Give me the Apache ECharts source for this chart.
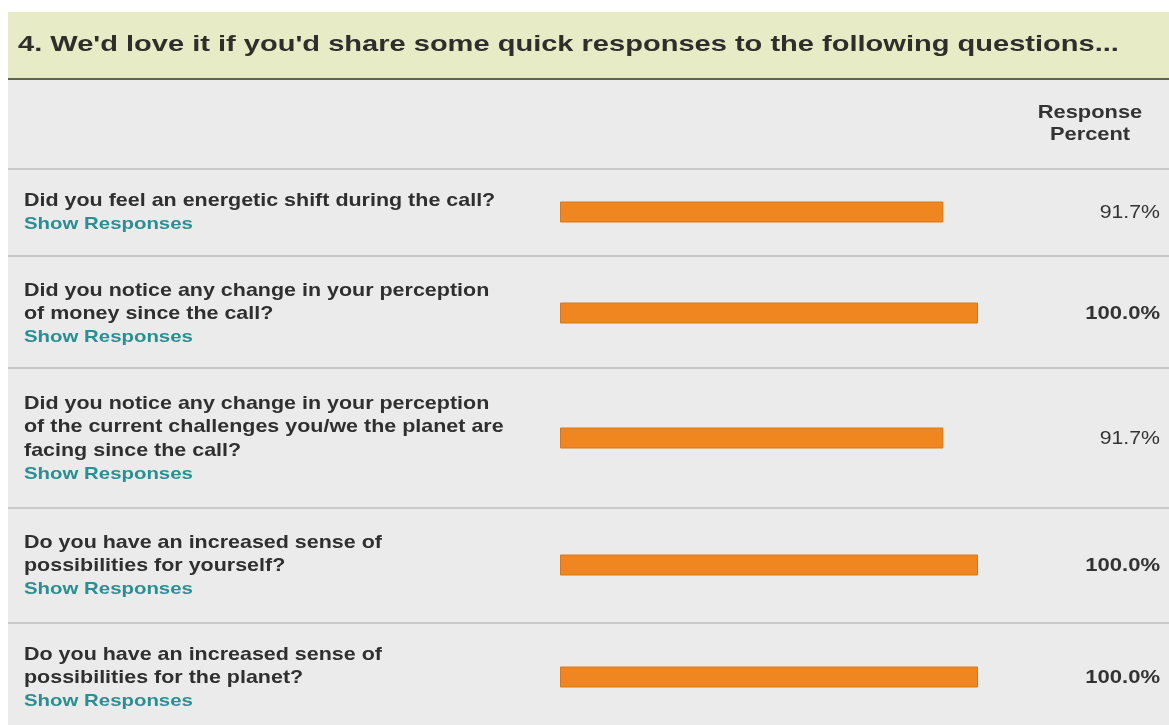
<!DOCTYPE html>
<html>
<head>
<meta charset="utf-8">
<script src="https://cdn.jsdelivr.net/npm/echarts@6/dist/echarts.min.js"></script>
<style>
html, body { margin: 0; padding: 0; background: #fff; }
#chart_panel { width: 1169px; height: 725px; }
</style>
</head>
<body>
<div id="chart_panel"></div>
<script>
// data
var titleText = "4. We'd love it if you'd share some quick responses to the following questions...";
var columnHeader = ['Response', 'Percent'];
var questions = [
	['Did you feel an energetic shift during the call?'],
	['Did you notice any change in your perception', 'of money since the call?'],
	['Did you notice any change in your perception', 'of the current challenges you/we the planet are', 'facing since the call?'],
	['Do you have an increased sense of', 'possibilities for yourself?'],
	['Do you have an increased sense of', 'possibilities for the planet?']
];
var linkText = 'Show Responses';
var percentValues = [91.7, 100.0, 91.7, 100.0, 100.0];

// layout, pixels
var rowLines = [169, 256, 368, 508, 623];
var barCenters = [212, 313, 438, 565, 677];
var barLeft = 560, barFull = 418, barThick = 21;
var lineH = 23.5;
var font = '"Liberation Sans", Arial, Helvetica, sans-serif';

var myChart = echarts.init(document.getElementById('chart_panel'));

// the screenshot text is rendered wide, so stretch it a bit
function txt(x, y, text, f, fill, align, sx) {
	return {
		type: 'text', x: x, y: y, scaleX: sx,
		style: {text: text, font: f, fill: fill, align: align || 'left', verticalAlign: 'middle'}
	};
}

var grids = [], xAxes = [], yAxes = [], series = [];
var graphics = [
	{type: 'rect', shape: {x: 8, y: 12, width: 1161, height: 66}, style: {fill: '#e7ecc6'}},
	{type: 'rect', shape: {x: 8, y: 78, width: 1161, height: 2}, style: {fill: '#5f6352'}},
	{type: 'rect', shape: {x: 8, y: 80, width: 1161, height: 645}, style: {fill: '#ebebeb'}},
	txt(18, 45, titleText, 'bold 22px ' + font, '#2e2e2a', 'left', 1.32),
	txt(1090, 113, columnHeader[0], 'bold 19px ' + font, '#333', 'center', 1.15),
	txt(1090, 135, columnHeader[1], 'bold 19px ' + font, '#333', 'center', 1.15)
];

for (var i = 0; i < rowLines.length; i++) {
	graphics.push({type: 'rect', shape: {x: 8, y: rowLines[i] - 1, width: 1161, height: 2}, style: {fill: '#c9c9c9'}});
}

for (var i = 0; i < questions.length; i++) {
	var lines = questions[i].concat([linkText]);
	var y0 = barCenters[i] - (lines.length - 1) * lineH / 2 + 1;
	for (var j = 0; j < lines.length; j++) {
		if (j == lines.length - 1) {
			graphics.push(txt(24, y0 + j * lineH, lines[j], 'bold 17px ' + font, '#2a8f93', 'left', 1.2));
		} else {
			graphics.push(txt(24, y0 + j * lineH, lines[j], 'bold 19px ' + font, '#2f2f2f', 'left', 1.13));
		}
	}
	var pct = percentValues[i].toFixed(1) + '%';
	graphics.push(txt(1160, barCenters[i] + 1, pct,
		(percentValues[i] >= 100 ? 'bold ' : '') + '19px ' + font, '#333', 'right',
		percentValues[i] >= 100 ? 1.16 : 1.12));

	grids.push({left: barLeft, width: barFull, top: barCenters[i] - barThick / 2, height: barThick});
	xAxes.push({type: 'value', gridIndex: i, min: 0, max: 100, show: false});
	yAxes.push({type: 'category', gridIndex: i, data: [questions[i].join(' ')], show: false});
	series.push({
		type: 'bar', xAxisIndex: i, yAxisIndex: i,
		data: [percentValues[i]],
		barWidth: '100%',
		silent: true,
		itemStyle: {color: '#f0861f', borderColor: '#d9761d', borderWidth: 1}
	});
}

myChart.setOption({
	animation: false,
	backgroundColor: '#fff',
	graphic: {elements: graphics},
	grid: grids,
	xAxis: xAxes,
	yAxis: yAxes,
	series: series
});
window.onresize = myChart.resize;
</script>
</body>
</html>
